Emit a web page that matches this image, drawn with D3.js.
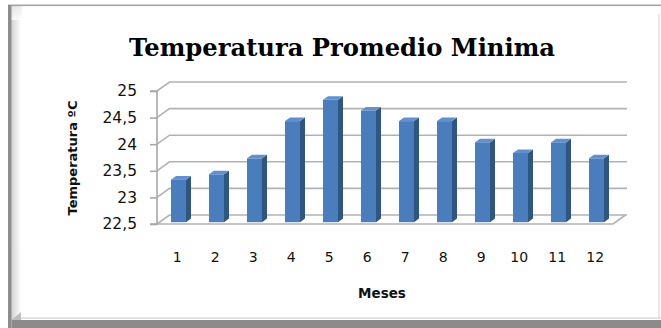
<!DOCTYPE html>
<html>
<head>
<meta charset="utf-8">
<script src="https://cdn.jsdelivr.net/npm/d3@7/dist/d3.min.js"></script>
<style>
  html, body { margin: 0; padding: 0; background: #ffffff; }
  svg { display: block; }
</style>
</head>
<body>
<svg id="chart" width="661" height="328"></svg>
<script>
// Monthly mean minimum temperature (°C)
const months = ["1","2","3","4","5","6","7","8","9","10","11","12"];
const tempMin = [23.3, 23.4, 23.7, 24.4, 24.8, 24.6, 24.4, 24.4, 24.0, 23.8, 24.0, 23.7];
const yTicks = [22.5, 23, 23.5, 24, 24.5, 25];

const titleText = "Temperatura Promedio Minima";
const yTitle = "Temperatura ºC";
const xTitle = "Meses";

const svg = d3.select("#chart");
const W = 661, H = 328;

// ---- frame (bevelled chart border) ----
const defs = svg.append("defs");
const lg = defs.append("linearGradient").attr("id", "leftBevel").attr("x1", 0).attr("x2", 1).attr("y1", 0).attr("y2", 0);
lg.append("stop").attr("offset", 0).attr("stop-color", "#cfcfcf");
lg.append("stop").attr("offset", 1).attr("stop-color", "#ffffff");
const tg = defs.append("linearGradient").attr("id", "topBevel").attr("x1", 0).attr("x2", 0).attr("y1", 0).attr("y2", 1);
tg.append("stop").attr("offset", 0).attr("stop-color", "#e6e6e6");
tg.append("stop").attr("offset", 1).attr("stop-color", "#ffffff");

svg.append("rect").attr("x", 0).attr("y", 0).attr("width", W).attr("height", H).attr("fill", "#ffffff");
svg.append("rect").attr("x", 11).attr("y", 6).attr("width", 10).attr("height", 314).attr("fill", "url(#leftBevel)");
svg.append("polygon").attr("points", "11,6 22,6 22,14 21,20 11,20").attr("fill", "url(#topBevel)").attr("opacity", 0.8);
svg.append("rect").attr("x", 8).attr("y", 4.5).attr("width", W - 8).attr("height", 1.6).attr("fill", "#a4a4a4");
svg.append("rect").attr("x", 8).attr("y", 5).attr("width", 3.5).attr("height", H - 5).attr("fill", "#8d8d8d");
svg.append("rect").attr("x", 21).attr("y", 317.5).attr("width", W - 21).attr("height", 1.2).attr("fill", "#d4d4d4");
svg.append("polygon")
  .attr("points", `11.5,${H} 11.5,320 ${W},320 ${W},${H}`)
  .attr("fill", "#8b8b8b");
svg.append("polygon")
  .attr("points", `11.5,320 21,312 21,320`)
  .attr("fill", "#bdbdbd");
svg.append("rect").attr("x", 658.5).attr("y", 14).attr("width", 1).attr("height", 304).attr("fill", "#d2d2d2");

// ---- title ----
svg.append("text")
  .attr("x", 342).attr("y", 56)
  .attr("text-anchor", "middle")
  .attr("font-family", "'DejaVu Serif', 'Liberation Serif', serif")
  .attr("font-weight", "bold")
  .attr("font-size", 24)
  .attr("textLength", 426)
  .attr("lengthAdjust", "spacingAndGlyphs")
  .attr("fill", "#000")
  .text(titleText);

// ---- 3D plot geometry ----
const left = 157, right = 613;
const depthX = 12.5, depthY = -9;
const y = d3.scaleLinear().domain([22.5, 25]).range([224, 91]);
const x = d3.scaleBand().domain(months).range([left, right]).padding(0);

const grid = svg.append("g").attr("stroke", "#b2b2b2").attr("stroke-width", 1.6).attr("fill", "none");

// back wall gridlines with their diagonal onto the side wall
yTicks.forEach(v => {
  const yy = y(v);
  grid.append("path").attr("d",
    `M${left},${yy} L${left + depthX},${yy + depthY} L${right + depthX + 1.5},${yy + depthY}`);
});
// floor
grid.append("path").attr("d",
  `M${left},${y(22.5)} L${right},${y(22.5)} L${right + depthX},${y(22.5) + depthY}`);

// y axis (front-left edge) with ticks
const yAxis = d3.axisLeft(y).tickValues(yTicks).tickSize(7).tickPadding(13)
  .tickFormat(d => d3.format("")(d).replace(".", ","));
const yAxisG = svg.append("g").attr("transform", `translate(${left},0)`).call(yAxis);
yAxisG.select(".domain").attr("stroke", "#a8a8a8").attr("stroke-width", 1.6).attr("d", `M-7,${y(25)}H0V${y(22.5)}H-7`);
yAxisG.selectAll(".tick line").attr("stroke", "#a8a8a8").attr("stroke-width", 1.6);
yAxisG.selectAll(".tick text")
  .attr("fill", "#111")
  .attr("font-family", "'DejaVu Sans', Verdana, sans-serif")
  .attr("font-size", 15.5);

// ---- bars ----
const d0 = 0.2, d1 = 0.6, barW = 15;
const base = 22.5;
const bars = svg.append("g");
months.forEach((m, i) => {
  const v = tempMin[i];
  const cx = x(m) + x.bandwidth() / 2 + depthX * d0;
  const x0 = cx - barW / 2, x1 = cx + barW / 2;
  const yt = y(v) + depthY * d0, yb = y(base) + depthY * d0;
  const ddx = depthX * (d1 - d0), ddy = depthY * (d1 - d0);
  // side face
  bars.append("polygon")
    .attr("points", `${x1},${yt} ${x1 + ddx},${yt + ddy} ${x1 + ddx},${yb + ddy} ${x1},${yb}`)
    .attr("fill", "#2f5582");
  // top face
  bars.append("polygon")
    .attr("points", `${x0},${yt} ${x1},${yt} ${x1 + ddx},${yt + ddy} ${x0 + ddx},${yt + ddy}`)
    .attr("fill", "#5f90cf");
  // front face
  bars.append("rect")
    .attr("x", x0).attr("y", yt).attr("width", barW).attr("height", yb - yt)
    .attr("fill", "#4a7dbb");
});

// ---- x axis labels ----
const xAxis = d3.axisBottom(x).tickSize(0).tickPadding(0);
const xAxisG = svg.append("g").attr("transform", `translate(${depthX * 0.1},251)`).call(xAxis);
xAxisG.select(".domain").remove();
xAxisG.selectAll(".tick text")
  .attr("fill", "#111")
  .attr("font-family", "'DejaVu Sans', Verdana, sans-serif")
  .attr("font-size", 14)
  .attr("dy", "0.35em").attr("y", 6);

// ---- axis titles ----
svg.append("text")
  .attr("x", 382).attr("y", 298)
  .attr("text-anchor", "middle")
  .attr("font-family", "'DejaVu Sans', Verdana, sans-serif")
  .attr("font-weight", "bold")
  .attr("font-size", 13.5)
  .attr("fill", "#111")
  .text(xTitle);

svg.append("text")
  .attr("transform", "translate(77,158) rotate(-90)")
  .attr("text-anchor", "middle")
  .attr("font-family", "'DejaVu Sans', Verdana, sans-serif")
  .attr("font-weight", "bold")
  .attr("font-size", 13)
  .attr("fill", "#111")
  .text(yTitle);
</script>
</body>
</html>
